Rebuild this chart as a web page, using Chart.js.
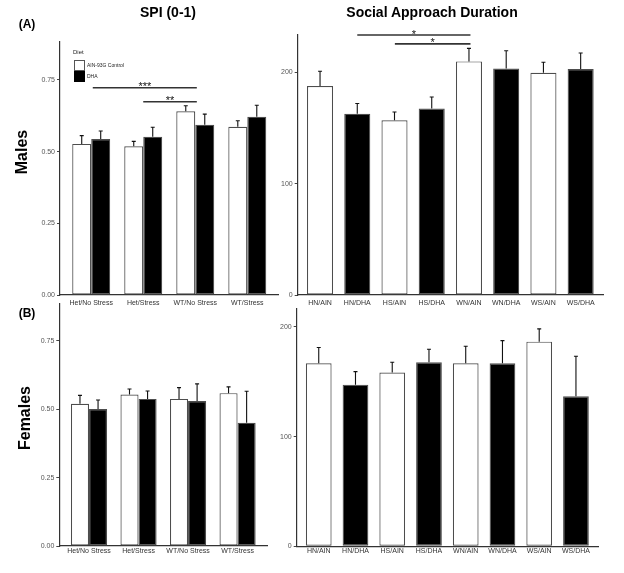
<!DOCTYPE html>
<html><head><meta charset="utf-8">
<script src="https://cdn.jsdelivr.net/npm/chart.js@4"></script>
<style>
html,body{margin:0;padding:0;background:#fff;width:624px;height:573px;overflow:hidden;}
canvas{position:absolute;left:0;top:0;}
.t{position:absolute;font-family:"Liberation Sans",Arial,sans-serif;color:#000;white-space:nowrap;transform:translate(-50%,-50%);line-height:1;}
.l{position:absolute;font-family:"Liberation Sans",Arial,sans-serif;color:#222;white-space:nowrap;line-height:1;transform:translateY(-50%);}
.box{position:absolute;box-sizing:border-box;border:1px solid #555;}
</style></head><body>
<canvas id="c1" width="624" height="573"></canvas>
<canvas id="c2" width="624" height="573"></canvas>
<canvas id="c3" width="624" height="573"></canvas>
<canvas id="c4" width="624" height="573"></canvas>

<div class="t" style="left:168px;top:12px;font-size:14px;font-weight:bold">SPI (0-1)</div>
<div class="t" style="left:432px;top:12px;font-size:14px;font-weight:bold">Social Approach Duration</div>
<div class="t" style="left:27px;top:24px;font-size:12px;font-weight:bold">(A)</div>
<div class="t" style="left:27px;top:313px;font-size:12px;font-weight:bold">(B)</div>
<div class="t" style="left:22px;top:152px;font-size:16px;font-weight:bold;transform:translate(-50%,-50%) rotate(-90deg)">Males</div>
<div class="t" style="left:25px;top:418px;font-size:16px;font-weight:bold;transform:translate(-50%,-50%) rotate(-90deg)">Females</div>

<div class="l" style="left:73px;top:52px;font-size:6px">Diet</div>
<div class="box" style="left:74px;top:60px;width:11px;height:11px;background:#fff"></div>
<div class="box" style="left:74px;top:70.5px;width:11px;height:11px;background:#000;border-color:#000"></div>
<div class="l" style="left:87px;top:64.5px;font-size:5px">AIN-93G Control</div>
<div class="l" style="left:87px;top:76px;font-size:5px">DHA</div>

<script>
// ---------- data ----------
const spiCategories = ['Het/No Stress', 'Het/Stress', 'WT/No Stress', 'WT/Stress'];
const durCategories = ['HN/AIN', 'HN/DHA', 'HS/AIN', 'HS/DHA', 'WN/AIN', 'WN/DHA', 'WS/AIN', 'WS/DHA'];
const durDiet = ['AIN', 'DHA', 'AIN', 'DHA', 'AIN', 'DHA', 'AIN', 'DHA'];
const spiTicks = [0, 0.25, 0.5, 0.75];
const durTicks = [0, 100, 200];

const maleSpiAIN = [0.527, 0.519, 0.641, 0.587];
const maleSpiAINErr = [0.029, 0.017, 0.019, 0.021];
const maleSpiDHA = [0.544, 0.552, 0.594, 0.622];
const maleSpiDHAErr = [0.028, 0.033, 0.037, 0.040];

const femaleSpiAIN = [0.520, 0.554, 0.538, 0.559];
const femaleSpiAINErr = [0.031, 0.020, 0.041, 0.023];
const femaleSpiDHA = [0.501, 0.538, 0.530, 0.451];
const femaleSpiDHAErr = [0.033, 0.029, 0.063, 0.115];

const maleDur = [187.7, 162.8, 157.0, 167.5, 209.8, 203.5, 199.6, 203.0];
const maleDurErr = [13.3, 9.2, 7.3, 10.3, 11.7, 15.9, 9.4, 14.4];
const femaleDur = [166.9, 147.4, 158.4, 167.8, 166.9, 166.9, 186.6, 136.8];
const femaleDurErr = [14.3, 11.9, 9.4, 11.8, 15.5, 20.6, 11.6, 36.5];

// significance brackets: [from category, to category, y value, label]
const maleSpiSig = [[0.03, 2.03, 0.723, '***'], [1.0, 2.03, 0.674, '**']];
const maleDurSig = [[1.0, 4.04, 233.5, '*'], [2.01, 4.04, 225.5, '*']];

// ---------- helpers ----------
const FONT = '"Liberation Sans", Arial, sans-serif';
const dietColor = d => d === 'AIN' ? '#ffffff' : '#000000';
const pts = arr => arr.map((v, i) => ({x: i, y: v}));

const errPlugin = {
  id: 'errbars',
  afterDatasetsDraw(chart) {
    const ctx = chart.ctx, ys = chart.scales.y;
    chart.data.datasets.forEach((ds, di) => {
      const meta = chart.getDatasetMeta(di);
      meta.data.forEach((bar, i) => {
        const v = ds.data[i].y, e = ds.errors[i];
        const y0 = ys.getPixelForValue(v), y1 = ys.getPixelForValue(v + e);
        ctx.save();
        ctx.strokeStyle = '#111'; ctx.lineWidth = 1.1;
        ctx.beginPath();
        ctx.moveTo(bar.x, y0); ctx.lineTo(bar.x, y1);
        ctx.moveTo(bar.x - 2, y1); ctx.lineTo(bar.x + 2, y1);
        ctx.stroke();
        ctx.restore();
      });
    });
  }
};

const sigPlugin = {
  id: 'sig',
  afterDraw(chart, args, opts) {
    if (!opts.items) return;
    const ctx = chart.ctx, xs = chart.scales.x, ys = chart.scales.y;
    opts.items.forEach(([a, b, v, lab]) => {
      const x0 = xs.getPixelForValue(a), x1 = xs.getPixelForValue(b), y = ys.getPixelForValue(v);
      ctx.save();
      ctx.strokeStyle = '#333'; ctx.lineWidth = 1.6;
      ctx.beginPath(); ctx.moveTo(x0, y); ctx.lineTo(x1, y); ctx.stroke();
      ctx.fillStyle = '#111'; ctx.font = '11px ' + FONT;
      ctx.textAlign = 'center'; ctx.textBaseline = 'alphabetic';
      ctx.fillText(lab, (x0 + x1) / 2, y + 2.5);
      ctx.restore();
    });
  }
};

function makeChart(id, area, cats, datasets, yMax, yTicks, yFmt, catPct, xPad, sig) {
  const yW = 40, xH = 14;
  new Chart(document.getElementById(id), {
    type: 'bar',
    data: {datasets},
    options: {
      responsive: false, animation: false, devicePixelRatio: 1,
      layout: {padding: {left: area.l - yW, top: area.t, right: 624 - area.r, bottom: 573 - area.b - xH}},
      plugins: {legend: {display: false}, tooltip: {enabled: false}, sig: {items: sig}},
      datasets: {bar: {categoryPercentage: catPct, barPercentage: 1, borderWidth: 1.2, borderSkipped: false}},
      scales: {
        x: {
          type: 'linear', min: -0.6, max: cats.length - 0.4, offset: false,
          afterBuildTicks: s => { s.ticks = cats.map((c, i) => ({value: i})); },
          afterFit: s => { s.height = xH; },
          grid: {display: false, drawTicks: false, tickLength: 0},
          border: {display: true, color: '#333', width: 1.2},
          ticks: {autoSkip: false, maxRotation: 0, minRotation: 0, padding: xPad,
                  font: {size: 7, family: FONT}, color: '#333',
                  callback: v => cats[v]}
        },
        y: {
          min: 0, max: yMax,
          afterBuildTicks: s => { s.ticks = yTicks.map(v => ({value: v})); },
          afterFit: s => { s.width = yW; },
          grid: {display: true, drawOnChartArea: false, drawTicks: true, tickLength: 3, color: '#444'},
          border: {display: true, color: '#333', width: 1.2},
          ticks: {padding: 2, font: {size: 7, family: FONT}, color: '#555', callback: yFmt}
        }
      }
    },
    plugins: [errPlugin, sigPlugin]
  });
}

const spiFmt = v => v.toFixed(2);
const durFmt = v => String(v);
const barBorder = '#4d4d4d';

makeChart('c1', {l: 60, t: 42, r: 278.5, b: 295}, spiCategories, [
  {label: 'AIN-93G Control', data: pts(maleSpiAIN), errors: maleSpiAINErr, backgroundColor: '#fff', borderColor: barBorder},
  {label: 'DHA', data: pts(maleSpiDHA), errors: maleSpiDHAErr, backgroundColor: '#000', borderColor: barBorder}
], 0.8825, spiTicks, spiFmt, 0.73, 4, maleSpiSig);

makeChart('c2', {l: 297.7, t: 35, r: 603, b: 295}, durCategories, [
  {label: 'Duration', data: pts(maleDur), errors: maleDurErr, backgroundColor: durDiet.map(dietColor), borderColor: barBorder}
], 233.5, durTicks, durFmt, 0.7, 4, maleDurSig);

makeChart('c3', {l: 59.3, t: 304, r: 267.3, b: 546}, spiCategories, [
  {label: 'AIN-93G Control', data: pts(femaleSpiAIN), errors: femaleSpiAINErr, backgroundColor: '#fff', borderColor: barBorder},
  {label: 'DHA', data: pts(femaleSpiDHA), errors: femaleSpiDHAErr, backgroundColor: '#000', borderColor: barBorder}
], 0.885, spiTicks, spiFmt, 0.73, 1, null);

makeChart('c4', {l: 296.7, t: 308.3, r: 598, b: 546.3}, durCategories, [
  {label: 'Duration', data: pts(femaleDur), errors: femaleDurErr, backgroundColor: durDiet.map(dietColor), borderColor: barBorder}
], 217, durTicks, durFmt, 0.7, 1, null);
</script>
</body></html>
